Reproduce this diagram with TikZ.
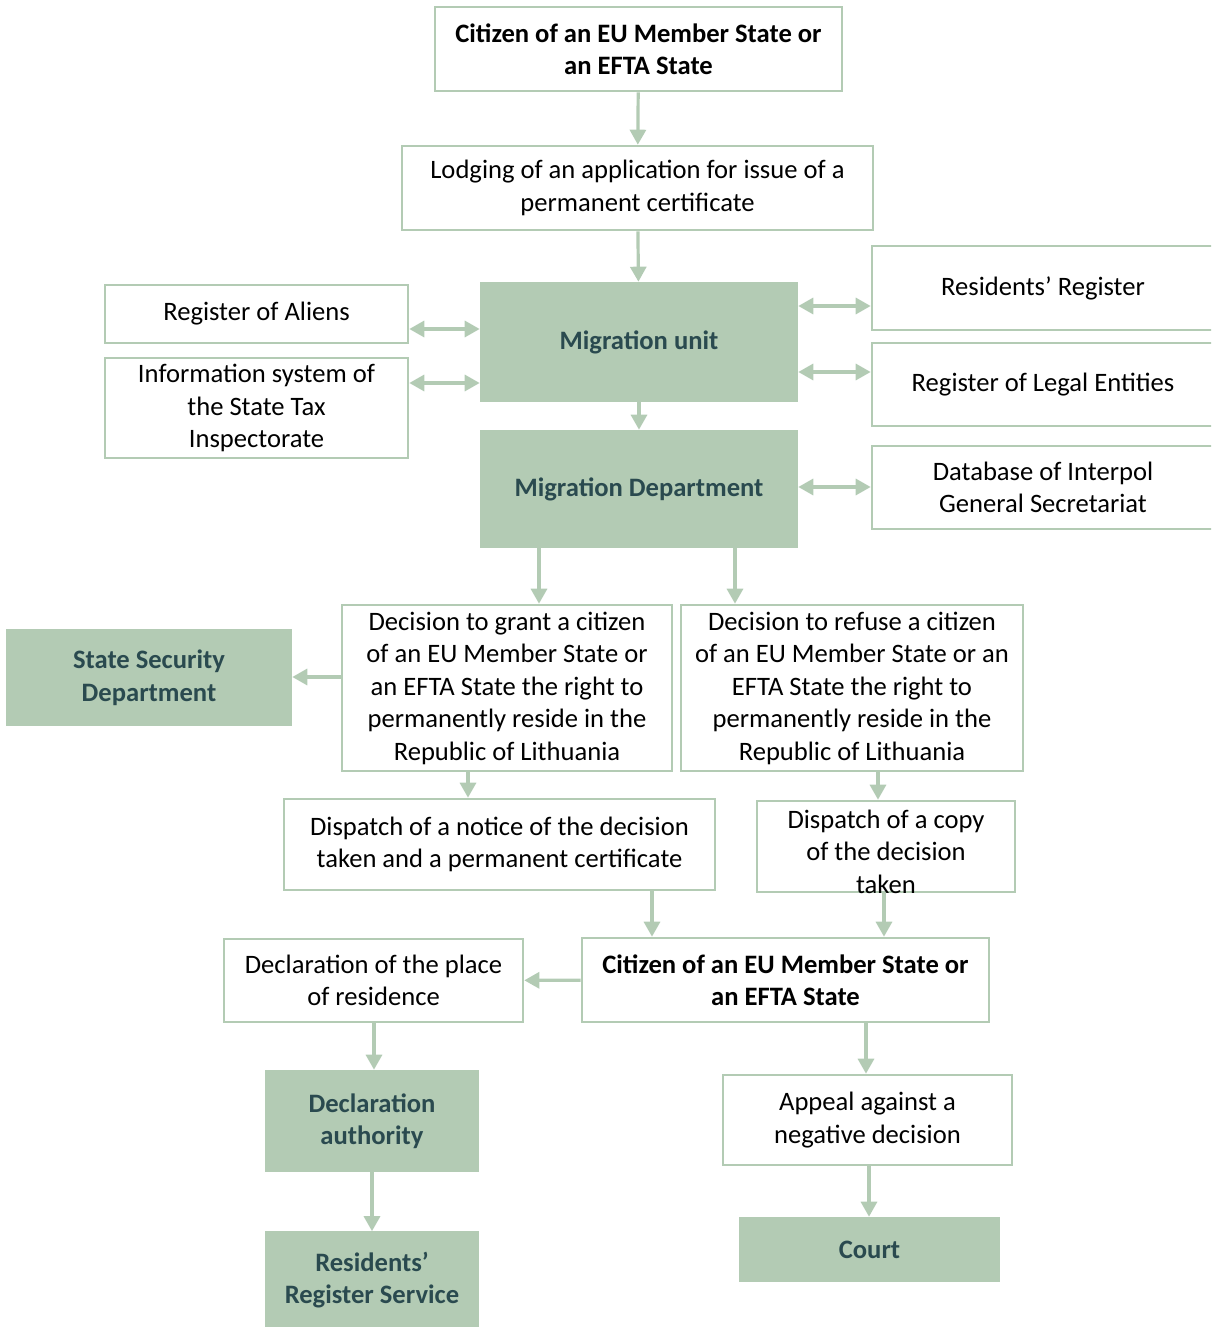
\documentclass[tikz,border=0pt]{standalone}
\usepackage{fontspec}
\setmainfont{Carlito}
\usetikzlibrary{arrows.meta}
\definecolor{sage}{HTML}{B3CBB4}
\definecolor{darkteal}{HTML}{2A4A4F}
\begin{document}
\begin{tikzpicture}[x=0.5pt, y=-0.5pt, font=\fontsize{13.3}{16.25}\selectfont,
		box/.style={draw=sage, line width=1.3pt, fill=white, align=center, inner sep=2pt},
		unit/.style={box, fill=sage, text=darkteal, font=\fontsize{13.3}{16.25}\selectfont\bfseries},
		link/.style={draw=sage, line width=1.6pt, -{Triangle[length=7.5pt, width=8pt]}},
		both/.style={link, {Triangle[length=7.5pt, width=8pt]}-{Triangle[length=7.5pt, width=8pt]}}]
				\useasboundingbox (0,0) rectangle (1211,1327);
				\clip (0,0) rectangle (1211,1327);
				\node (1) [box, minimum width=203.5pt, minimum height=42pt, font=\fontsize{13.3}{16.25}\selectfont\bfseries] at (638.5,49) {Citizen of an EU Member State or\\an EFTA State};
				\node (2) [box, minimum width=235.5pt, minimum height=42pt] at (637.5,188) {Lodging of an application for issue of a\\permanent certificate};
				\node (3) [box, minimum width=151.5pt, minimum height=29pt] at (256.5,314) {Register of Aliens};
				\node (4) [box, minimum width=151.5pt, minimum height=50pt] at (256.5,408) {Information system of\\the State Tax\\Inspectorate};
				\node (5) [unit, minimum width=158pt, minimum height=59pt] at (639,342) {Migration unit};
				\node (6) [box, minimum width=171pt, minimum height=42pt] at (1043,288) {Residents’ Register};
				\node (7) [box, minimum width=171pt, minimum height=41.5pt] at (1043,384.5) {Register of Legal Entities};
				\node (8) [unit, minimum width=158pt, minimum height=58pt] at (639,489) {Migration Department};
				\node (9) [box, minimum width=171pt, minimum height=41.5pt] at (1043,487.5) {Database of Interpol\\General Secretariat};
				\node (10) [unit, minimum width=142pt, minimum height=47.5pt] at (149,677.5) {State Security\\Department};
				\node (11) [box, minimum width=165pt, minimum height=83pt] at (507,688) {Decision to grant a citizen\\of an EU Member State or\\an EFTA State the right to\\permanently reside in the\\Republic of Lithuania};
				\node (12) [box, minimum width=171pt, minimum height=83pt] at (852,688) {Decision to refuse a citizen\\of an EU Member State or an\\EFTA State the right to\\permanently reside in the\\Republic of Lithuania};
				\node (13) [box, minimum width=215.5pt, minimum height=45.5pt] at (499.5,844.5) {Dispatch of a notice of the decision\\taken and a permanent certificate};
				\node (14) [box, minimum width=129pt, minimum height=45.5pt] at (886,846.5) {};
				\node (14t) [align=center, inner sep=0pt] at ([yshift=-2.5pt]14.center) {Dispatch of a copy\\of the decision\\taken};
				\node (15) [box, minimum width=203.5pt, minimum height=42pt, font=\fontsize{13.3}{16.25}\selectfont\bfseries] at (785.5,980) {Citizen of an EU Member State or\\an EFTA State};
				\node (16) [box, minimum width=149.5pt, minimum height=41.5pt] at (373.5,980.5) {Declaration of the place\\of residence};
				\node (17) [unit, minimum width=106pt, minimum height=50pt] at (372,1121) {Declaration\\authority};
				\node (18) [box, minimum width=144.5pt, minimum height=45pt] at (867.5,1120) {Appeal against a\\negative decision};
				\node (19) [unit, minimum width=106pt, minimum height=47.5pt] at (372,1280) {Residents’\\Register Service};
				\node (20) [unit, minimum width=129.5pt, minimum height=31.5pt] at (869.5,1249.5) {Court};
				
				\draw[link] (1) -- (2);
				\draw[link] (2) -- (5);
				\draw[both] (3.east |- 0,329) -- (5.west |- 0,329);
				\draw[both] (4.east |- 0,383) -- (5.west |- 0,383);
				\draw[both] (5.east |- 0,306) -- (6.west |- 0,306);
				\draw[both] (5.east |- 0,372) -- (7.west |- 0,372);
				\draw[link] (5) -- (8);
				\draw[both] (8.east |- 0,487) -- (9.west |- 0,487);
				\draw[link] (8.south -| 539,0) -- (11.north -| 539,0);
				\draw[link] (8.south -| 735,0) -- (12.north -| 735,0);
				\draw[link] (11.west |- 0,677) -- (10.east |- 0,677);
				\draw[link] (11.south -| 468,0) -- (13.north -| 468,0);
				\draw[link] (12.south -| 878,0) -- (14.north -| 878,0);
				\draw[link] (13.south -| 652,0) -- (15.north -| 652,0);
				\draw[link] (14.south -| 884,0) -- (15.north -| 884,0);
				\draw[link] (15) -- (16);
				\draw[link] (16.south -| 374,0) -- (17.north -| 374,0);
				\draw[link] (17) -- (19);
				\draw[link] (15.south -| 866,0) -- (18.north -| 866,0);
				\draw[link] (18.south -| 869,0) -- (20.north -| 869,0);
			\end{tikzpicture}
\end{document}
